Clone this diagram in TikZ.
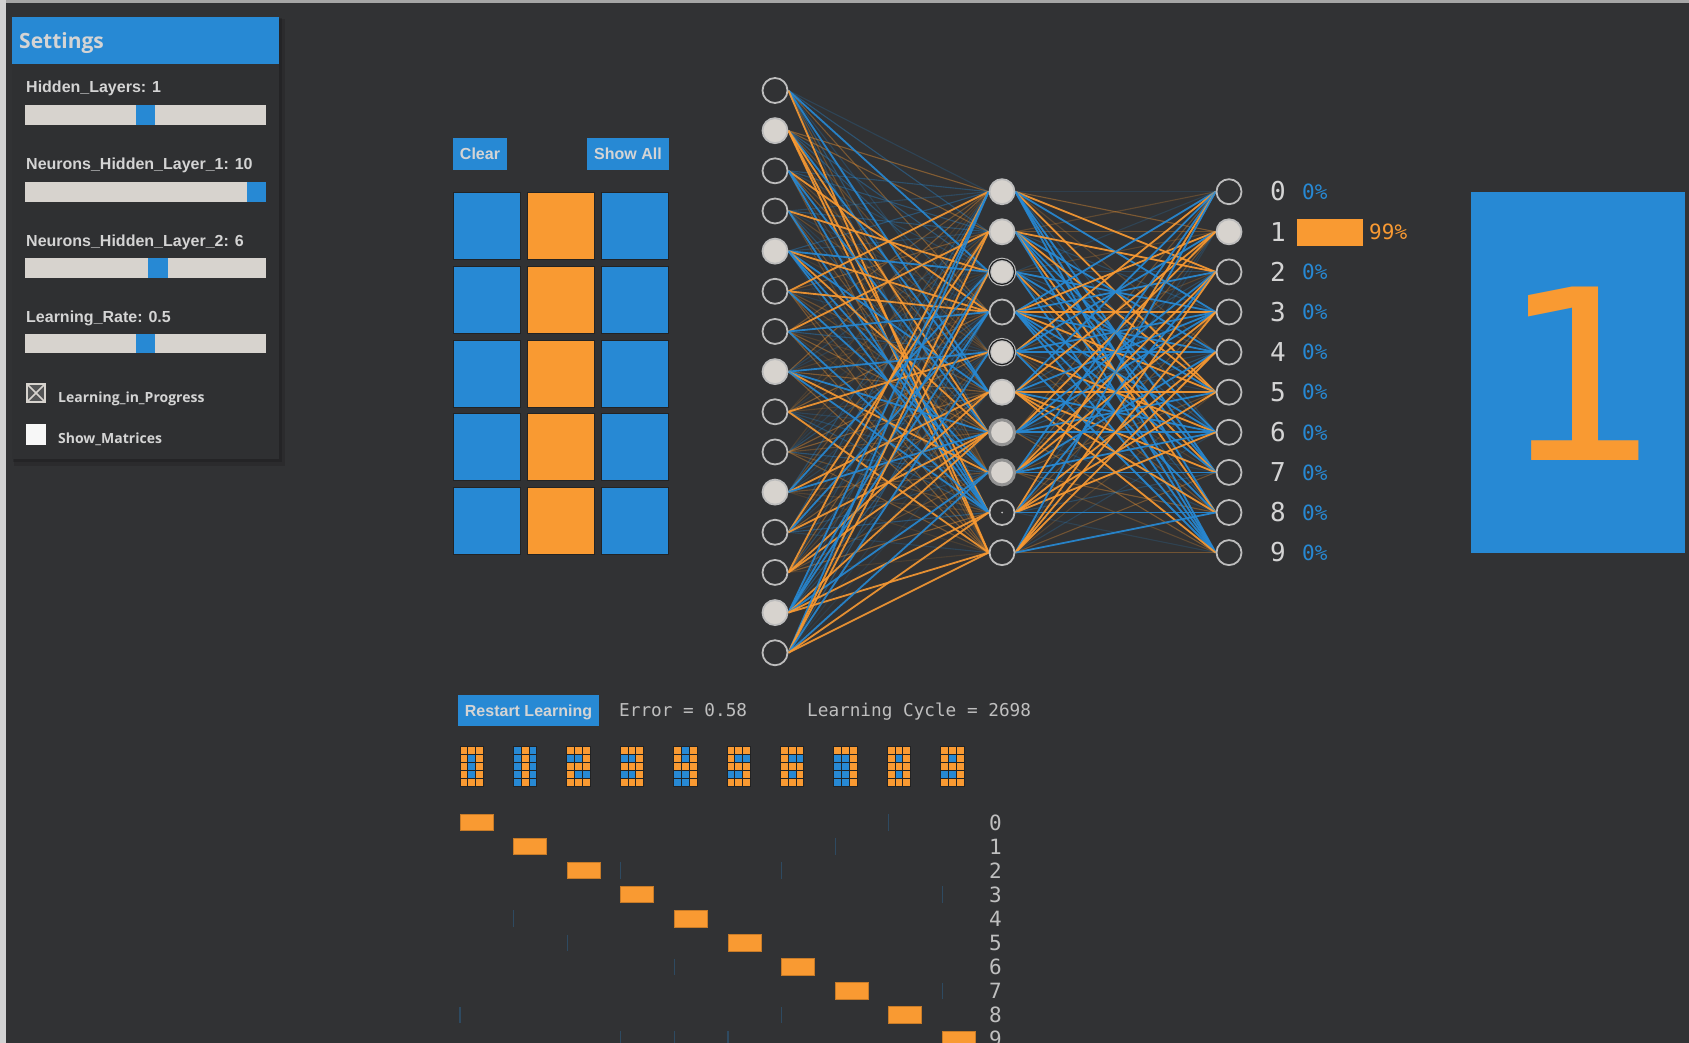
\documentclass[tikz,border=0pt]{standalone}
\usepackage{fontspec}
\setmainfont{Liberation Sans}
\newfontfamily\monof{DejaVu Sans Mono}
\newfontfamily\osans{Open Sans}
\definecolor{bg}{HTML}{313234}
\definecolor{panelbg}{HTML}{2F3032}
\definecolor{nnblue}{HTML}{2789D4}
\definecolor{nnorange}{HTML}{F99A32}
\definecolor{lightg}{HTML}{D7D3CE}
\definecolor{txtg}{HTML}{D4D4D4}
\definecolor{ringc}{HTML}{BDBDBD}
\newcommand\myfs[1]{\fontsize{#1}{#1}\selectfont}
\pgfdeclarelayer{bgl}
\pgfdeclarelayer{edges}
\pgfsetlayers{bgl,edges,main}
\newcommand\minidig[2]{%
  \foreach \v [count=\k from 0] in {#2} {
    \pgfmathtruncatemacro\cc{mod(\k,3)}
    \pgfmathtruncatemacro\rr{div(\k,3)}
    \pgfmathsetmacro\xx{460+53.4*#1+7.8*\cc}
    \pgfmathsetmacro\yy{746.7+7.86*\rr}
    \ifnum\v=1 \def\col{nnorange}\else\def\col{nnblue}\fi
    \filldraw[fill=\col, draw=bg!70!black, line width=0.9] (\xx,\yy) rectangle ++(7.8,7.86);
  }}
\begin{document}
\begin{tikzpicture}[x=1pt,y=-1pt,
  txt/.style={anchor=base west, inner sep=0, text=txtg},
  lbl/.style={txt, font=\bfseries\myfs{16}},
  chk/.style={txt, font=\osans\bfseries\myfs{14}},
  mono/.style={txt, font=\monof\myfs{17.7}, text=txtg!90!black},
  btn/.style={fill=nnblue, inner sep=0, text=txtg, font=\bfseries\myfs{16}, text height=11.5, text depth=0},
  track/.style={fill=lightg},
  thumb/.style={fill=nnblue},
  neuron/.style={circle, minimum size=25, inner sep=0, draw=ringc, line width=1.8, fill=bg},
  act/.style={neuron, fill=lightg},
  actring/.style={act, line width=1.1, double=bg!60!black, double distance=1.2},
  actgrey/.style={act, draw=gray!85, line width=3},
  dotn/.style={neuron, path picture={\fill[ringc] (path picture bounding box.center) circle (1);}},
  cell/.style={draw=bg!70!black, line width=0.8},
  pct/.style={txt, font=\monof\myfs{21}, text=nnblue},
  digl/.style={anchor=base, inner sep=0, text=txtg, font=\monof\myfs{26}},
  cmlab/.style={txt, font=\monof\myfs{21}, text=txtg!90!black},
  tick/.style={draw=nnblue!28!bg, line width=1.3}
]
\useasboundingbox (0,0) rectangle (1689,1043);
\begin{pgfonlayer}{bgl}
\fill[bg] (0,0) rectangle (1689,1043);
\fill[gray!70] (0,0) rectangle (1689,3);
\fill[gray!35] (0,0) rectangle (6,1043);
\end{pgfonlayer}

% ---------- settings panel
\fill[black, opacity=0.12] (14,19) rectangle (285,466);
\fill[black, opacity=0.15] (13,18) rectangle (282,462);
\fill[panelbg] (12,17) rectangle (279,459);
\fill[nnblue] (12,17) rectangle (279,64);
\node[txt, font=\osans\bfseries\myfs{21}] (settings) at (19,49) {Settings};

\node[lbl] (l1) at (26,93) {Hidden\_Layers: 1};
\fill[track] (25,105) rectangle (266,125);
\fill[thumb] (136,105) rectangle (155,125);
\node[lbl] (l2) at (26,169.5) {Neurons\_Hidden\_Layer\_1: 10};
\fill[track] (25,182) rectangle (266,202);
\fill[thumb] (247,182) rectangle (266,202);
\node[lbl] (l3) at (26,246) {Neurons\_Hidden\_Layer\_2: 6};
\fill[track] (25,258) rectangle (266,278);
\fill[thumb] (148,258) rectangle (168,278);
\node[lbl] (l4) at (26,322) {Learning\_Rate: 0.5};
\fill[track] (25,334) rectangle (266,353);
\fill[thumb] (136,334) rectangle (155,353);

\filldraw[fill=gray!45!bg, draw=lightg, line width=1.6] (27,384) rectangle (45,402);
\draw[lightg, line width=1.6] (27,384) -- (45,402) (45,384) -- (27,402);
\node[chk] (c1) at (58,402) {Learning\_in\_Progress};
\fill[white!94!gray] (26,424) rectangle (46,445);
\node[chk] (c2) at (58,443) {Show\_Matrices};

% ---------- input drawing grid
\node[btn, minimum width=54, minimum height=32] (clear) at (480,154) {Clear};
\node[btn, minimum width=82, minimum height=32] (showall) at (628,154) {Show All};
\foreach \r/\ya in {0/192,1/266,2/340,3/413,4/487}{
  \filldraw[cell, fill=nnblue] (453,\ya) rectangle ++(67,67);
  \filldraw[cell, fill=nnorange] (527,\ya) rectangle ++(67,67);
  \filldraw[cell, fill=nnblue] (601,\ya) rectangle ++(67,67);
}

% ---------- network nodes
\foreach \i in {1,...,15}{
  \pgfmathsetmacro\yy{90.5+40.16*(\i-1)}
  \pgfmathtruncatemacro\on{mod(\i,3)==2}
  \ifnum\on=1 \node[act] (in\i) at (775,\yy) {};
  \else \node[neuron] (in\i) at (775,\yy) {}; \fi
}
\foreach \j/\st in {1/act,2/act,3/actring,4/neuron,5/actring,6/act,7/actgrey,8/actgrey,9/dotn,10/neuron}{
  \pgfmathsetmacro\yy{191.7+40.1*(\j-1)}
  \node[\st] (hid\j) at (1002,\yy) {};
}
\foreach \k in {0,...,9}{
  \pgfmathsetmacro\yy{191.7+40.1*\k}
  \ifnum\k=1 \node[act] (out\k) at (1229,\yy) {};
  \else \node[neuron] (out\k) at (1229,\yy) {}; \fi
  \node[digl] (dig\k) at (1278,\yy+9.3) {\k};
  \ifnum\k=1\else \node[pct] (pct\k) at (1302,\yy+7.7) {0\%}; \fi
}
\fill[nnorange] (1297,219) rectangle (1363,246);
\node[pct, text=nnorange] (pct1) at (1369,239.3) {99\%};

% ---------- connections
\begin{pgfonlayer}{edges}
\foreach \pass in {0,1}{
 \foreach \i in {1,...,15}{
  \foreach \j in {1,...,10}{
   \pgfmathsetmacro\wa{frac(abs(sin(\i*127.1+\j*311.7))*937.53)}
   \pgfmathsetmacro\wb{frac(abs(sin(\i*269.5+\j*183.3+17))*743.17)}
   \pgfmathtruncatemacro\ec{\wa<0.5}
   \pgfmathtruncatemacro\stg{\wb>0.62}
   \ifnum\ec=1 \def\col{nnorange}\else\def\col{nnblue}\fi
   \ifnum\stg=\pass
     \ifnum\stg=1
       \draw[\col, line width=1.8, opacity=0.9] (in\i.east) -- (hid\j.west);
     \else
       \pgfmathsetmacro\op{0.1+0.5*\wb}
       \draw[\col, line width=1.1, opacity=\op] (in\i.east) -- (hid\j.west);
     \fi
   \fi
  }}
 \foreach \j in {1,...,10}{
  \foreach \k in {0,...,9}{
   \pgfmathsetmacro\wa{frac(abs(sin(\j*91.3+\k*233.9+5))*811.71)}
   \pgfmathsetmacro\wb{frac(abs(sin(\j*157.7+\k*77.1+29))*677.37)}
   \pgfmathtruncatemacro\ec{\wa<0.48}
   \pgfmathtruncatemacro\stg{\wb>0.40}
   \ifnum\ec=1 \def\col{nnorange}\else\def\col{nnblue}\fi
   \ifnum\stg=\pass
     \ifnum\stg=1
       \draw[\col, line width=1.8, opacity=0.92] (hid\j.east) -- (out\k.west);
     \else
       \pgfmathsetmacro\op{0.15+0.6*\wb}
       \draw[\col, line width=1.1, opacity=\op] (hid\j.east) -- (out\k.west);
     \fi
   \fi
  }}
}
\end{pgfonlayer}

% ---------- big output digit
\fill[nnblue] (1471,192) rectangle (1685,553);
\node[anchor=base, inner sep=0, text=nnorange, font=\monof\myfs{238}] (bigone) at (1577,460) {\scalebox{1.12}[1]{1}};

% ---------- learning status
\node[btn, minimum width=141, minimum height=31] (restart) at (528.5,710.5) {Restart Learning};
\node[mono] (err) at (619,716.5) {Error = 0.58};
\node[mono] (cyc) at (807,716.5) {Learning Cycle = 2698};

\minidig{0}{1,1,1,1,0,1,1,0,1,1,0,1,1,1,1}
\minidig{1}{0,1,0,0,1,0,0,1,0,0,1,0,0,1,0}
\minidig{2}{1,1,1,0,0,1,1,1,1,1,0,0,1,1,1}
\minidig{3}{1,1,1,0,0,1,1,1,1,0,0,1,1,1,1}
\minidig{4}{1,0,1,1,0,1,1,1,1,0,0,1,0,0,1}
\minidig{5}{1,1,1,1,0,0,1,1,1,0,0,1,1,1,1}
\minidig{6}{1,1,1,1,0,0,1,1,1,1,0,1,1,1,1}
\minidig{7}{1,1,1,0,0,1,0,0,1,0,0,1,0,0,1}
\minidig{8}{1,1,1,1,0,1,1,1,1,1,0,1,1,1,1}
\minidig{9}{1,1,1,1,0,1,1,1,1,0,0,1,1,1,1}

% ---------- confusion matrix
\begin{scope}
\clip (0,0) rectangle (1689,1043);
\foreach \r/\c in {0/8,3/9,8/0,8/6,9/3,9/4,9/5,2/3,2/6,4/1,5/2,6/4,7/9,1/7}{
  \pgfmathsetmacro\xx{460+53.6*\c}
  \pgfmathsetmacro\yy{814+24.1*\r}
  \draw[tick] (\xx,\yy) -- ++(0,16.5);
}
\foreach \r in {0,...,9}{
  \pgfmathsetmacro\xx{460+53.6*\r}
  \pgfmathsetmacro\yy{814+24.1*\r}
  \filldraw[fill=nnorange, draw=nnorange!80!black, line width=0.8] (\xx,\yy) rectangle ++(33,16.5);
  \node[cmlab] (cm\r) at (989,\yy+16) {\r};
}
\end{scope}
\end{tikzpicture}
\end{document}
